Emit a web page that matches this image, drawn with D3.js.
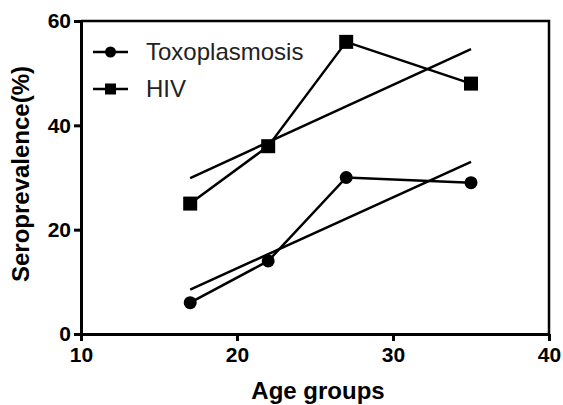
<!DOCTYPE html>
<html>
<head>
<meta charset="utf-8">
<script src="https://cdn.jsdelivr.net/npm/d3@7"></script>
<style>
  body { margin: 0; background: #fff; }
  svg { font-family: "Liberation Sans", Arial, sans-serif; }
  .axis path, .axis line { stroke: #000; stroke-width: 3; }
  .axis text { font-size: 21px; font-weight: bold; fill: #000; }
</style>
</head>
<body>
<div id="container"></div>
<script>
var margin = {top: 21, right: 14, bottom: 71, left: 81},
    totalWidth = 563,
    totalHeight = 405,
    width = totalWidth - margin.left - margin.right,
    height = totalHeight - margin.top - margin.bottom;

// data
var ageGroups = [17, 22, 27, 35];
var toxoValues = [6, 14, 30, 29];
var hivValues = [25, 36, 56, 48];
// fitted trend lines, read at their ends
var fitX = [17, 35];
var toxoFit = [8.5, 33.0];
var hivFit = [29.9, 54.6];
var xTicks = [10, 20, 30, 40];
var yTicks = [0, 20, 40, 60];
var seriesNames = ["Toxoplasmosis", "HIV"];

var xScale = d3.scaleLinear().domain([10, 40]).range([0, width]);
var yScale = d3.scaleLinear().domain([0, 60]).range([height, 0]);

var xAxis = d3.axisBottom(xScale).tickValues(xTicks).tickSize(7).tickPadding(6).tickSizeOuter(0);
var yAxis = d3.axisLeft(yScale).tickValues(yTicks).tickSize(7).tickPadding(3).tickSizeOuter(0);

var svg = d3.select("#container")
            .append("svg")
            .attr("width", totalWidth)
            .attr("height", totalHeight)
            .append("g")
            .attr("transform", "translate(" + margin.left + "," + margin.top + ")");

// frame top and right
svg.append("path")
   .attr("d", "M0,0H" + width + "V" + height)
   .attr("fill", "none")
   .attr("stroke", "#000")
   .attr("stroke-width", 2.5);

svg.append("g")
   .attr("class", "axis x-axis")
   .attr("transform", "translate(0," + height + ")")
   .call(xAxis);
svg.append("g")
   .attr("class", "axis y-axis")
   .call(yAxis);

svg.append("text")
   .attr("x", width / 2 + 3)
   .attr("y", height + 65)
   .attr("text-anchor", "middle")
   .attr("font-size", 24)
   .attr("font-weight", "bold")
   .text("Age groups");
svg.append("text")
   .attr("transform", "rotate(-90)")
   .attr("x", -153)
   .attr("y", -52)
   .attr("text-anchor", "middle")
   .attr("font-size", 24)
   .attr("font-weight", "bold")
   .text("Seroprevalence(%)");

var line = d3.line()
             .x(function(d) { return xScale(d[0]); })
             .y(function(d) { return yScale(d[1]); });

var series = [
  {name: seriesNames[0], values: toxoValues, fit: toxoFit, shape: "circle"},
  {name: seriesNames[1], values: hivValues, fit: hivFit, shape: "square"}
];

function marker(g, shape, size) {
  if (shape === "circle") {
    g.append("circle").attr("r", size / 2).attr("fill", "#000");
  } else {
    g.append("rect")
     .attr("x", -size / 2).attr("y", -size / 2)
     .attr("width", size).attr("height", size)
     .attr("fill", "#000");
  }
}

series.forEach(function(s) {
  var pts = ageGroups.map(function(a, i) { return [a, s.values[i]]; });
  var fitPts = fitX.map(function(a, i) { return [a, s.fit[i]]; });
  svg.append("path")
     .attr("d", line(fitPts))
     .attr("fill", "none")
     .attr("stroke", "#000")
     .attr("stroke-width", 2.5);
  svg.append("path")
     .attr("d", line(pts))
     .attr("fill", "none")
     .attr("stroke", "#000")
     .attr("stroke-width", 2.5);
  pts.forEach(function(p) {
    var g = svg.append("g")
               .attr("transform", "translate(" + xScale(p[0]) + "," + yScale(p[1]) + ")");
    marker(g, s.shape, s.shape === "circle" ? 13 : 14);
  });
});

// legend
var legend = svg.append("g").attr("transform", "translate(12, 31)");
series.forEach(function(s, i) {
  var row = legend.append("g").attr("transform", "translate(0," + i * 37 + ")");
  row.append("line")
     .attr("x1", 0).attr("x2", 35)
     .attr("stroke", "#000")
     .attr("stroke-width", 2.5);
  var m = row.append("g").attr("transform", "translate(17.5,0)");
  marker(m, s.shape, 11);
  row.append("text")
     .attr("x", 53)
     .attr("dy", "0.35em")
     .attr("font-size", 24)
     .attr("fill", "#222")
     .text(s.name);
});
</script>
</body>
</html>
